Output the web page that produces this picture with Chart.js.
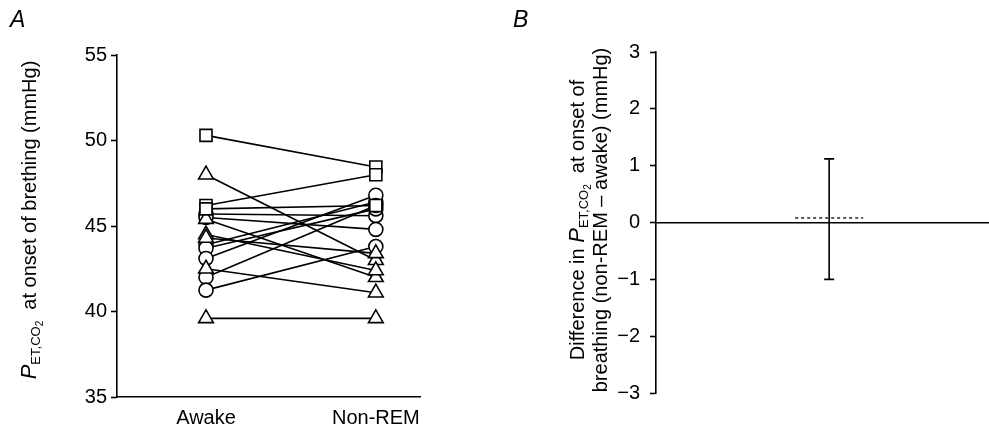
<!DOCTYPE html>
<html>
<head>
<meta charset="utf-8">
<script src="https://cdn.jsdelivr.net/npm/chart.js@4/dist/chart.umd.min.js"></script>
<style>
  body { margin: 0; background: #fff; }
  #wrap { position: relative; width: 989px; height: 427px; overflow: hidden; }
  #chartA { position: absolute; left: 0; top: 0; }
  #chartB { position: absolute; left: 480px; top: 0; }
</style>
</head>
<body>
<div id="wrap">
  <canvas id="chartA" width="480" height="427"></canvas>
  <canvas id="chartB" width="509" height="427"></canvas>
</div>
<script>
// Panel A: end-tidal PCO2 at onset of breathing, each subject awake vs non-REM
const conditions = ['Awake', 'Non-REM'];
const awake  = [50.3, 46.2, 46.0, 48.0, 45.4, 44.5, 44.3, 42.5, 39.6, 45.7, 45.5, 43.9, 43.7, 43.1, 42.0, 41.25];
const nonRem = [48.45, 48.0, 46.2, 43.0, 42.0, 42.4, 43.4, 41.1, 39.6, 45.6, 44.8, 46.4, 46.0, 46.8, 46.2, 43.8];
const shapes = ['rect', 'rect', 'rect',
                'triangle', 'triangle', 'triangle', 'triangle', 'triangle', 'triangle',
                'circle', 'circle', 'circle', 'circle', 'circle', 'circle', 'circle'];
const yTicksA = [35, 40, 45, 50, 55];

// Panel B: difference (non-REM - awake), mean with error bar
const diffMean  = 0.08;
const diffUpper = 1.12;
const diffLower = -1.0;
const yTicksB = [-3, -2, -1, 0, 1, 2, 3];

const FONT = "'Liberation Sans', Arial, Helvetica, sans-serif";
const FS = 20;
const markerSize = { rect: 8.5, triangle: 8.5, circle: 7 };

Chart.defaults.font.family = FONT;
Chart.defaults.color = '#000';

// draws rotated axis title with italic P and subscripts
function drawRotatedTitle(ctx, parts, cx, cy) {
    ctx.save();
    ctx.translate(cx, cy);
    ctx.rotate(-Math.PI / 2);
    let total = 0;
    parts.forEach(p => {
        ctx.font = (p.italic ? 'italic ' : '') + p.size + 'px ' + FONT;
        p.w = ctx.measureText(p.text).width;
        total += p.w;
    });
    let x = -total / 2;
    ctx.fillStyle = '#000';
    ctx.textBaseline = 'alphabetic';
    parts.forEach(p => {
        ctx.font = (p.italic ? 'italic ' : '') + p.size + 'px ' + FONT;
        ctx.fillText(p.text, x, (p.dy || 0) + 7);
        x += p.w;
    });
    ctx.restore();
}

function pSymbol(size) {
    return [
        { text: 'P', italic: true, size: size + 2 },
        { text: 'ET,CO', size: size - 7, dy: 4 },
        { text: '2', size: size - 10, dy: 7 }
    ];
}

const lineSets = awake.map((a, i) => ({
    type: 'line',
    data: [{ x: 0, y: a }, { x: 1, y: nonRem[i] }],
    borderColor: '#000',
    borderWidth: 1.6,
    pointRadius: 0,
    order: 2
}));

const markerSets = ['rect', 'triangle', 'circle'].map(shape => {
    const pts = [];
    awake.forEach((a, i) => {
        if (shapes[i] !== shape) return;
        pts.push({ x: 0, y: a });
        pts.push({ x: 1, y: nonRem[i] });
    });
    return {
        type: 'scatter',
        data: pts,
        pointStyle: shape,
        pointRadius: markerSize[shape],
        pointBackgroundColor: '#fff',
        pointBorderColor: '#000',
        pointBorderWidth: 1.6,
        order: 1
    };
});

const titleA = {
    id: 'titleA',
    afterDraw(chart) {
        const ctx = chart.ctx;
        ctx.save();
        ctx.font = 'italic 23px ' + FONT;
        ctx.fillStyle = '#000';
        ctx.fillText('A', 10, 27);
        ctx.restore();
        drawRotatedTitle(ctx, pSymbol(FS).concat([{ text: '  at onset of brething (mmHg)', size: FS }]), 29, 220);
    }
};

new Chart(document.getElementById('chartA'), {
    type: 'scatter',
    data: { datasets: markerSets.concat(lineSets) },
    plugins: [titleA],
    options: {
        responsive: false,
        animation: false,
        layout: { padding: { left: 0, top: 55, right: 60, bottom: 0 } },
        plugins: { legend: { display: false }, tooltip: { enabled: false } },
        scales: {
            x: {
                type: 'linear',
                min: -0.524,
                max: 1.26,
                afterBuildTicks: s => { s.ticks = [{ value: 0 }, { value: 1 }]; },
                afterFit: s => { s.height = 30; },
                border: { color: '#000', width: 1.6 },
                grid: { display: false, drawTicks: false },
                ticks: {
                    padding: 9,
                    font: { size: FS },
                    callback: v => conditions[v]
                }
            },
            y: {
                min: 35,
                max: 55,
                afterBuildTicks: s => { s.ticks = yTicksA.map(v => ({ value: v })); },
                afterFit: s => { s.width = 117; },
                border: { color: '#000', width: 1.6 },
                grid: { drawOnChartArea: false, tickLength: 6, color: '#000', tickWidth: 1.6 },
                ticks: { padding: 4, font: { size: FS } }
            }
        }
    }
});

// Panel B error bar and titles
const errorBar = {
    id: 'errorBar',
    afterDatasetsDraw(chart) {
        const ctx = chart.ctx;
        const xs = chart.scales.x, ys = chart.scales.y;
        const x = xs.getPixelForValue(0.52);
        const yTop = ys.getPixelForValue(diffUpper);
        const yBot = ys.getPixelForValue(diffLower);
        const yMean = ys.getPixelForValue(diffMean);
        ctx.save();
        ctx.strokeStyle = '#000';
        ctx.lineWidth = 1.6;
        ctx.beginPath();
        ctx.moveTo(x, yTop); ctx.lineTo(x, yBot);
        ctx.moveTo(x - 5, yTop); ctx.lineTo(x + 5, yTop);
        ctx.moveTo(x - 5, yBot); ctx.lineTo(x + 5, yBot);
        ctx.stroke();
        ctx.setLineDash([3, 3]);
        ctx.lineWidth = 1.3;
        ctx.beginPath();
        ctx.moveTo(x - 34, yMean); ctx.lineTo(x + 34, yMean);
        ctx.stroke();
        ctx.restore();
    },
    afterDraw(chart) {
        const ctx = chart.ctx;
        ctx.save();
        ctx.font = 'italic 23px ' + FONT;
        ctx.fillStyle = '#000';
        ctx.fillText('B', 33, 27);
        ctx.restore();
        drawRotatedTitle(ctx, [{ text: 'Difference in ', size: FS }].concat(pSymbol(FS))
            .concat([{ text: '  at onset of', size: FS }]), 97, 220);
        drawRotatedTitle(ctx, [{ text: 'breathing (non-REM \u2013 awake) (mmHg)', size: FS }], 120, 220);
    }
};

new Chart(document.getElementById('chartB'), {
    type: 'scatter',
    data: { datasets: [{ data: [] }] },
    plugins: [errorBar],
    options: {
        responsive: false,
        animation: false,
        layout: { padding: { left: 0, top: 52, right: 0, bottom: 34 } },
        plugins: { legend: { display: false }, tooltip: { enabled: false } },
        scales: {
            x: {
                type: 'linear',
                min: 0,
                max: 1,
                position: { y: 0 },
                border: { color: '#000', width: 1.6 },
                grid: { display: false, drawTicks: false },
                ticks: { display: false }
            },
            y: {
                min: -3,
                max: 3,
                position: 'left',
                afterBuildTicks: s => { s.ticks = yTicksB.map(v => ({ value: v })); },
                afterFit: s => { s.width = 176; },
                border: { color: '#000', width: 1.6 },
                grid: { drawOnChartArea: false, tickLength: 6, color: '#000', tickWidth: 1.6 },
                ticks: {
                    padding: 10,
                    font: { size: FS },
                    callback: v => (v < 0 ? '\u2212' + Math.abs(v) : String(v))
                }
            }
        }
    }
});
</script>
</body>
</html>
